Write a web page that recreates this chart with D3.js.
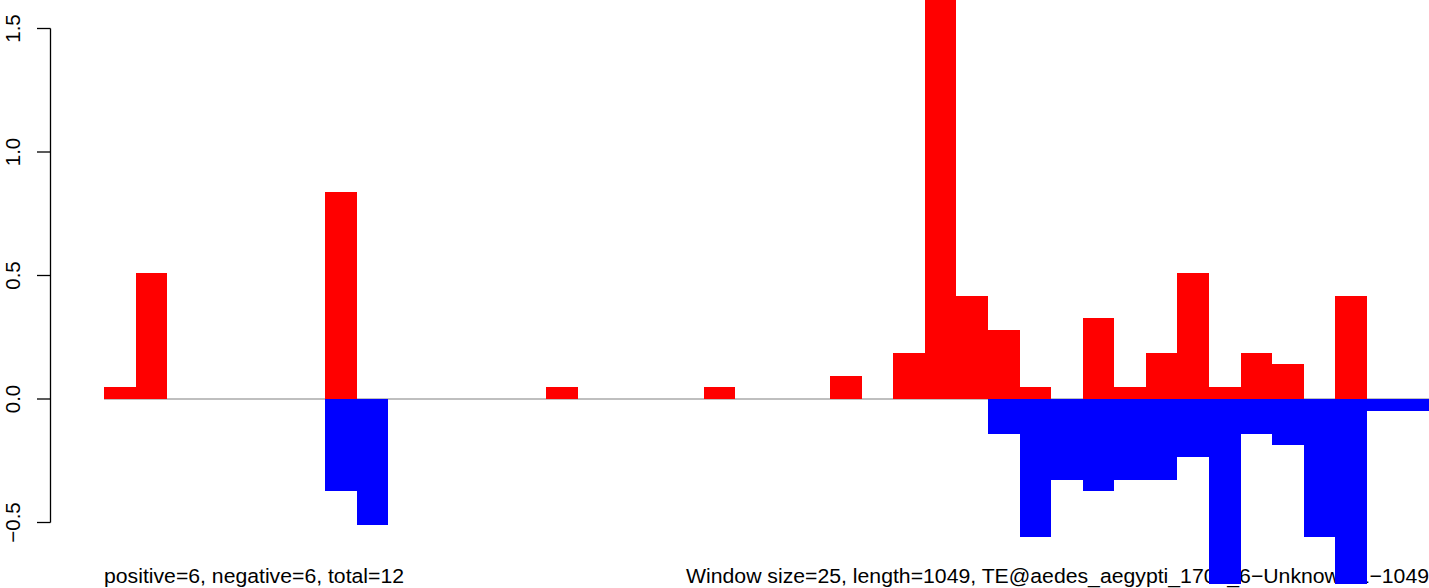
<!DOCTYPE html>
<html>
<head>
<meta charset="utf-8">
<script src="https://cdn.jsdelivr.net/npm/d3@7"></script>
<style>
  html, body { margin: 0; padding: 0; background: #fff; }
  svg { display: block; }
  text { font-family: "Liberation Sans", Arial, Helvetica, sans-serif; fill: #000; }
</style>
</head>
<body>
<svg id="chart" width="1429" height="588"></svg>
<script>
// Window index (window size 25 over length 1049 -> 42 windows)
const windows = d3.range(42);
// Positive-strand values per window (red)
const positiveValues = [
  0.047, 0.512, 0, 0, 0, 0, 0, 0.837, 0, 0,
  0, 0, 0, 0, 0.047, 0, 0, 0, 0, 0.047,
  0, 0, 0, 0.093, 0, 0.186, 1.72, 0.419, 0.279, 0.047,
  0, 0.326, 0.047, 0.186, 0.512, 0.047, 0.186, 0.14, 0, 0.419,
  0, 0
];
// Negative-strand values per window (blue)
const negativeValues = [
  0, 0, 0, 0, 0, 0, 0, -0.372, -0.512, 0,
  0, 0, 0, 0, 0, 0, 0, 0, 0, 0,
  0, 0, 0, 0, 0, 0, 0, 0, -0.14, -0.558,
  -0.326, -0.372, -0.326, -0.326, -0.233, -0.8, -0.14, -0.186, -0.558, -0.8,
  -0.047, -0.047
];
const yTicks = [-0.5, 0, 0.5, 1, 1.5];
const yTickLabels = ["\u22120.5", "0.0", "0.5", "1.0", "1.5"];
const leftNote = "positive=6, negative=6, total=12";
const rightNote = "Window size=25, length=1049, TE@aedes_aegypti_1703_6\u2212Unknown:1\u22121049";

const svg = d3.select("#chart");
const W = 1429, H = 588;

const x = d3.scaleLinear().domain([0, 42]).range([104, 1430]);
const y = d3.scaleLinear().domain([-0.5, 1.5]).range([522.5, 28.5]);

// bottom annotations (drawn first; bars overlay them)
svg.append("text")
  .attr("x", 104).attr("y", 583)
  .attr("font-size", 20.5)
  .attr("textLength", 300).attr("lengthAdjust", "spacingAndGlyphs")
  .text(leftNote);
svg.append("text")
  .attr("x", 686).attr("y", 583)
  .attr("font-size", 20.5)
  .attr("textLength", 743).attr("lengthAdjust", "spacingAndGlyphs")
  .text(rightNote);

// y axis
const axisX = 50.5;
const ax = svg.append("g");
ax.append("line")
  .attr("x1", axisX).attr("x2", axisX)
  .attr("y1", y(-0.5)).attr("y2", y(1.5))
  .attr("stroke", "#000").attr("stroke-width", 1.3);
yTicks.forEach((t, i) => {
  ax.append("line")
    .attr("x1", axisX - 13.5).attr("x2", axisX)
    .attr("y1", y(t)).attr("y2", y(t))
    .attr("stroke", "#000").attr("stroke-width", 1.3);
  ax.append("text")
    .attr("transform", `translate(20,${y(t)}) rotate(-90)`)
    .attr("text-anchor", "middle")
    .attr("font-size", 20.5)
    .text(yTickLabels[i]);
});

// clip for plotting area
svg.append("clipPath").attr("id", "plotclip")
  .append("rect").attr("x", 104).attr("y", 0).attr("width", W - 104).attr("height", 584);

const plot = svg.append("g").attr("clip-path", "url(#plotclip)");

// zero baseline
plot.append("line")
  .attr("x1", x(0)).attr("x2", W)
  .attr("y1", y(0)).attr("y2", y(0))
  .attr("stroke", "#808080").attr("stroke-width", 1.2);

// positive bars
plot.selectAll("rect.pos")
  .data(windows.filter(i => positiveValues[i] > 0))
  .join("rect")
  .attr("class", "pos")
  .attr("x", i => x(i))
  .attr("width", i => x(i + 1) - x(i))
  .attr("y", i => y(positiveValues[i]))
  .attr("height", i => y(0) - y(positiveValues[i]))
  .attr("fill", "#ff0000")
  .attr("shape-rendering", "crispEdges");

// negative bars
plot.selectAll("rect.neg")
  .data(windows.filter(i => negativeValues[i] < 0))
  .join("rect")
  .attr("class", "neg")
  .attr("x", i => x(i))
  .attr("width", i => x(i + 1) - x(i))
  .attr("y", y(0))
  .attr("height", i => y(negativeValues[i]) - y(0))
  .attr("fill", "#0000ff")
  .attr("shape-rendering", "crispEdges");
</script>
</body>
</html>
